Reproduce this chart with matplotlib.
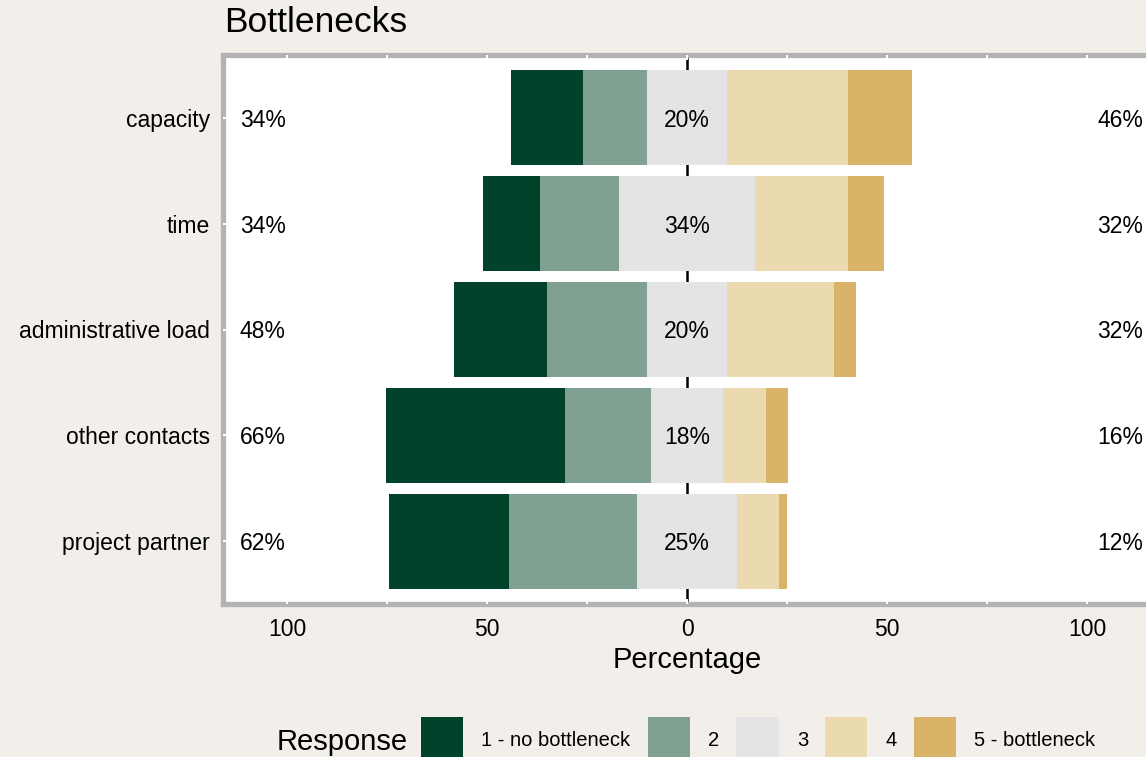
import numpy as np
import matplotlib.pyplot as plt
from matplotlib.patches import Patch

plt.rcParams['font.family'] = ['Liberation Sans', 'DejaVu Sans']

# Data (percent of responses per item)
categories = ['capacity', 'time', 'administrative load', 'other contacts', 'project partner']
resp1 = [18, 14.25, 23.25, 44.75, 30]
resp2 = [16, 19.75, 25, 21.5, 32]
resp3 = [20, 34, 20, 18, 25]
resp4 = [30.25, 23.25, 26.75, 10.75, 10.5]
resp5 = [16, 9, 5.5, 5.5, 2]
resp_labels = ['1 - no bottleneck', '2', '3', '4', '5 - bottleneck']
colors = ['#00432A', '#80A192', '#E4E4E4', '#EBD9B0', '#D9B468']

bg = '#F2EFEA'
fig = plt.figure(figsize=(11.46, 7.57), dpi=100, facecolor=bg)
ax = fig.add_axes([223 / 1146, 1 - 604 / 757, 928 / 1146, 549 / 757])
ax.set_facecolor('white')

y = np.arange(len(categories))
r1, r2, r3, r4, r5 = [np.array(v, dtype=float) for v in (resp1, resp2, resp3, resp4, resp5)]

# zero line behind the bars
ax.axvline(0, color='black', lw=1.8, zorder=1)

h = 0.89
left3 = -r3 / 2
starts = [left3 - r2 - r1, left3 - r2, left3, r3 / 2, r3 / 2 + r4]
widths = [r1, r2, r3, r4, r5]
for s, w, c in zip(starts, widths, colors):
    ax.barh(y, w, left=s, height=h, color=c, edgecolor='none', zorder=2)

# percentage labels
fs = 16.5
for i in range(len(categories)):
    ax.text(-111.75, y[i], f'{round(r1[i] + r2[i])}%', ha='left', va='center_baseline', fontsize=fs, zorder=3)
    ax.text(0, y[i], f'{round(r3[i])}%', ha='center', va='center_baseline', fontsize=fs, zorder=3)
    ax.text(114.0, y[i], f'{round(r4[i] + r5[i])}%', ha='right', va='center_baseline', fontsize=fs, zorder=3)

ax.set_xlim(-116, 116)
ax.set_ylim(len(categories) - 0.41, -0.59)
ax.set_yticks(y)
ax.set_yticklabels(categories, fontsize=fs)
ax.set_xticks([-100, -50, 0, 50, 100])
ax.set_xticklabels(['100', '50', '0', '50', '100'], fontsize=fs)
ax.set_xticks(np.arange(-100, 101, 25), minor=True)
ax.tick_params(axis='x', which='both', direction='in', length=3.5, width=1.5, color='white',
               top=True, pad=10)
ax.tick_params(axis='y', direction='in', length=3.5, width=1.5, color='white', pad=9.5)

for side in ['left', 'top', 'bottom', 'right']:
    ax.spines[side].set_color('#B3B3B3')
    ax.spines[side].set_linewidth(3.8)
    ax.spines[side].set_zorder(2.2)
ax.xaxis.set_zorder(3)
ax.yaxis.set_zorder(3)

ax.set_xlabel('Percentage', fontsize=21, labelpad=4)

fig.text(224 / 1146, 1 - 23 / 757, 'Bottlenecks', fontsize=25.5, ha='left', va='center')

# legend
handles = [Patch(facecolor=c, edgecolor='none') for c in colors]
leg = fig.legend(handles, resp_labels, ncol=5, loc='upper left',
                 bbox_to_anchor=(421 / 1146, 1 - 717 / 757), frameon=False,
                 prop={'size': 14.5},
                 handlelength=2.1, handleheight=3.2, handletextpad=0.9,
                 columnspacing=0.85, borderpad=0, borderaxespad=0)
fig.text(408 / 1146, 1 - 742 / 757, 'Response', fontsize=21, ha='right', va='center')

fig.savefig('out.png', dpi=100, facecolor=bg)
